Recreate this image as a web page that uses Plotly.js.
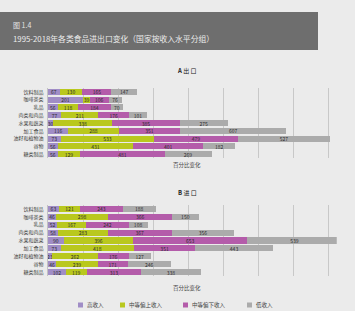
<!DOCTYPE html>
<html>
<head>
<meta charset="utf-8">
<script src="https://cdn.plot.ly/plotly-3.0.1.min.js"></script>
<style>
  html, body { margin: 0; padding: 0; background: #ebebeb; }
  #chart { width: 355px; height: 311px; }
</style>
</head>
<body>
<div id="chart"></div>
<script>
// Commodity groups (top to bottom)
const categories = ['饮料制品', '咖啡茶类', '乳品', '肉类和肉品', '水果和蔬菜', '加工食品', '油籽和植物油', '谷物', '糖类制品'];

// Income groups
const groups = ['高收入', '中等偏上收入', '中等偏下收入', '低收入'];
const groupColors = ['#a08dc6', '#b9c81e', '#b45caa', '#ababab'];

// A: exports, percentage change 1995-2018
const exportHigh      = [67, 201, 56, 77, 30, 116, 73, 56, 56];
const exportUpperMid  = [130, 39, 118, 211, 338, 288, 533, 431, 129];
const exportLowerMid  = [165, 106, 184, 176, 385, 351, 479, 401, 481];
const exportLow       = [147, 76, 70, 101, 275, 607, 527, 182, 269];

// B: imports, percentage change 1995-2018
const importHigh      = [63, 46, 52, 58, 90, 73, 23, 46, 102];
const importUpperMid  = [121, 298, 167, 283, 396, 418, 262, 239, 119];
const importLowerMid  = [243, 366, 242, 367, 653, 351, 176, 171, 313];
const importLow       = [188, 150, 108, 356, 539, 443, 127, 246, 338];

const W = 355, H = 311;
const px = v => v / W;           // horizontal pixel -> paper
const py = v => 1 - v / H;       // vertical pixel -> paper

const cjk = 'Noto Sans CJK SC, Noto Sans, sans-serif';

function series(values, i, xa, ya) {
  return {
    type: 'bar',
    orientation: 'h',
    name: groups[i],
    y: categories,
    x: values,
    xaxis: xa,
    yaxis: ya,
    marker: { color: groupColors[i], line: { width: 0 } },
    text: values.map(String),
    textposition: 'inside',
    insidetextanchor: 'middle',
    textangle: 0,
    textfont: { size: 5, color: '#2b2b2b', family: cjk },
    hoverinfo: 'skip',
    showlegend: false
  };
}

const exportsSets = [exportHigh, exportUpperMid, exportLowerMid, exportLow];
const importsSets = [importHigh, importUpperMid, importLowerMid, importLow];

const data = [];
exportsSets.forEach((v, i) => data.push(series(v, i, 'x', 'y')));
importsSets.forEach((v, i) => data.push(series(v, i, 'x2', 'y2')));

const xRange = [0, 1650];
const xDomain = [px(48), px(336.75)];

const xAxisBase = {
  domain: xDomain,
  range: xRange,
  dtick: 200,
  tick0: 0,
  showgrid: true,
  gridcolor: '#c8c8c8',
  gridwidth: 1,
  zeroline: false,
  showticklabels: false,
  ticks: '',
  showline: false,
  fixedrange: true
};
const yAxisBase = {
  autorange: 'reversed',
  showgrid: false,
  zeroline: false,
  ticks: '',
  ticklabelstandoff: 3,
  tickfont: { size: 5, color: '#3a3a3a', family: cjk },
  showline: true,
  linecolor: '#9a9a9a',
  linewidth: 0.5,
  fixedrange: true
};

// Hand-built legend swatches and labels
const legendX = [78, 120, 183, 247];
const legendY = 305;
const legendShapes = groups.map((g, i) => ({
  type: 'rect', xref: 'paper', yref: 'paper',
  x0: px(legendX[i]), x1: px(legendX[i] + 5),
  y0: py(legendY + 2.5), y1: py(legendY - 2.5),
  fillcolor: groupColors[i], line: { width: 0 }
}));
const legendText = groups.map((g, i) => ({
  xref: 'paper', yref: 'paper',
  x: px(legendX[i] + 7), y: py(legendY),
  xanchor: 'left', yanchor: 'middle',
  text: g, showarrow: false,
  font: { size: 5.5, color: '#444', family: cjk }
}));

const layout = {
  width: W, height: H,
  margin: { l: 0, r: 0, t: 0, b: 0 },
  paper_bgcolor: '#ebebeb',
  plot_bgcolor: 'rgba(0,0,0,0)',
  barmode: 'stack',
  bargap: 0.22,
  showlegend: false,
  uniformtext: { mode: 'show', minsize: 5 },
  font: { family: cjk, size: 5, color: '#333' },
  xaxis: Object.assign({}, xAxisBase, { anchor: 'y' }),
  yaxis: Object.assign({}, yAxisBase, { domain: [py(158), py(88)], anchor: 'x' }),
  xaxis2: Object.assign({}, xAxisBase, { anchor: 'y2' }),
  yaxis2: Object.assign({}, yAxisBase, { domain: [py(276), py(205)], anchor: 'x2' }),
  shapes: [
    {
      type: 'rect', xref: 'paper', yref: 'paper',
      x0: 0, x1: px(318), y0: py(50), y1: py(12),
      fillcolor: '#6e6e6e', line: { width: 0 }
    }
  ].concat(legendShapes),
  annotations: [
    {
      xref: 'paper', yref: 'paper', x: px(11), y: py(25),
      xanchor: 'left', yanchor: 'middle', showarrow: false,
      text: '图 1.4', font: { size: 7, color: '#e4e4e4', family: cjk }
    },
    {
      xref: 'paper', yref: 'paper', x: px(11), y: py(39),
      xanchor: 'left', yanchor: 'middle', showarrow: false,
      text: '1995-2018年各类食品进出口变化（国家按收入水平分组）',
      font: { size: 7.8, color: '#ececec', family: cjk }
    },
    {
      xref: 'paper', yref: 'paper', x: px(187), y: py(71),
      xanchor: 'center', yanchor: 'middle', showarrow: false,
      text: '<b>A</b> 出 口', font: { size: 6, color: '#222', family: cjk }
    },
    {
      xref: 'paper', yref: 'paper', x: px(187), y: py(192),
      xanchor: 'center', yanchor: 'middle', showarrow: false,
      text: '<b>B</b> 进 口', font: { size: 6, color: '#222', family: cjk }
    },
    {
      xref: 'paper', yref: 'paper', x: px(187), y: py(165),
      xanchor: 'center', yanchor: 'middle', showarrow: false,
      text: '百分比变化', font: { size: 5.5, color: '#444', family: cjk }
    },
    {
      xref: 'paper', yref: 'paper', x: px(187), y: py(288),
      xanchor: 'center', yanchor: 'middle', showarrow: false,
      text: '百分比变化', font: { size: 5.5, color: '#444', family: cjk }
    }
  ].concat(legendText)
};

Plotly.newPlot('chart', data, layout, { displayModeBar: false, staticPlot: true });
</script>
</body>
</html>
